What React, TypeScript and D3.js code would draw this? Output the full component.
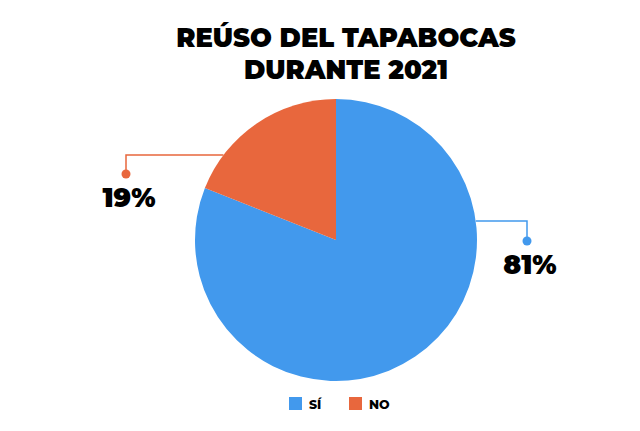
import React from "react";
import * as d3 from "d3";

const categories = ["SÍ", "NO"];
const values = [81, 19];
const colors = ["#4299ED", "#E8673D"];
const titleLines = ["REÚSO DEL TAPABOCAS", "DURANTE 2021"];

const W = 640, H = 431;
const cx = 336, cy = 240, R = 141;

export default function App() {
  const pie = d3.pie<number>().sort(null).value((d) => d)(values);
  const arc = d3.arc<d3.PieArcDatum<number>>().innerRadius(0).outerRadius(R);
  const font = "Montserrat, Inter, 'DejaVu Sans', sans-serif";
  const leaders = pie.map((p, i) => {
    const mid = (p.startAngle + p.endAngle) / 2;
    const isRight = Math.sin(mid) > 0;
    const ly = i === 0 ? cy - 19 : cy - 85;
    const dy = ly - cy;
    const dx = Math.sqrt(R * R - dy * dy) * (isRight ? 1 : -1);
    const ex = cx + dx;
    const tx = isRight ? 527 : 126;
    const dotY = i === 0 ? 241 : 174;
    return { ly, ex, tx, dotY, label: `${p.data}%`, color: colors[i] };
  });
  return (
    <svg width={W} height={H} style={{ display: "block", position: "absolute", left: 0, top: 0 }}>
      <rect width={W} height={H} fill="#fff" />
      {titleLines.map((t, i) => (
        <text key={i} x={346} y={47 + i * 32} textAnchor="middle" fontFamily={font} fontWeight={900} fontSize={25.8} fill="#000">
          {t}
        </text>
      ))}
      <g transform={`translate(${cx},${cy})`}>
        {pie.map((p, i) => (
          <path key={i} d={arc(p) || ""} fill={colors[i]} />
        ))}
      </g>
      {leaders.map((l, i) => (
        <g key={i}>
          <path d={`M${l.ex},${l.ly}H${l.tx}V${l.dotY}`} fill="none" stroke={l.color} strokeWidth={1.5} />
          <circle cx={l.tx} cy={l.dotY} r={4.5} fill={l.color} />
          <text x={l.tx + 3} y={l.dotY + 33} textAnchor="middle" fontFamily={font} fontWeight={900} fontSize={26.5} fill="#000">
            {l.label}
          </text>
        </g>
      ))}
      {categories.map((c, i) => (
        <g key={c} transform={`translate(${289 + i * 60},397)`}>
          <rect width={13} height={13} fill={colors[i]} />
          <text x={20} y={12} fontFamily={font} fontWeight={800} fontSize={12.5} fill="#000">{c}</text>
        </g>
      ))}
    </svg>
  );
}
